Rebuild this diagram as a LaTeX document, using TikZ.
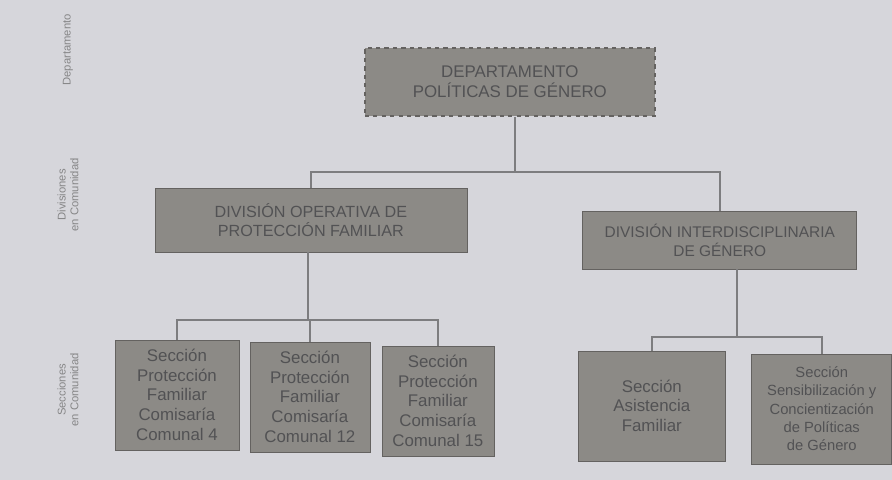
\documentclass[tikz,border=0pt]{standalone}
\usepackage{fontspec}
\setmainfont{Liberation Sans}
\definecolor{fondo}{RGB}{214,214,219}
\definecolor{caja}{RGB}{140,138,134}
\definecolor{borde}{RGB}{100,98,96}
\definecolor{letra}{RGB}{82,82,84}
\definecolor{linea}{RGB}{125,125,127}
\tikzset{
  unidad/.style={draw=borde,fill=caja,text=letra,align=center,font=\fontsize{11.5}{14}\selectfont,inner sep=2pt},
  seccion/.style={unidad,minimum height=2.75cm,font=\fontsize{12}{14.2}\selectfont},
  nivel/.style={rotate=90,text=letra!70,align=center,font=\fontsize{8}{9}\selectfont},
  rama/.style={draw=linea,line width=1.4pt}
}
\begin{document}
\begin{tikzpicture}[x=0.025cm,y=-0.025cm]
  \fill[fondo] (0,0) rectangle (892,480);
  % niveles
  \node[nivel] (n1) at (68,50) {Departamento};
  \node[nivel] (n2) at (68,195) {Divisiones\\en Comunidad};
  \node[nivel] (n3) at (68,390) {Secciones\\en Comunidad};
  % departamento
  \node[unidad,dashed,line width=1.3pt,minimum width=7.25cm,minimum height=1.7cm,font=\fontsize{12}{14.5}\selectfont] (dep) at (510,82)
    {DEPARTAMENTO\\POLÍTICAS DE GÉNERO};
  % divisiones
  \node[unidad,minimum width=7.8cm,minimum height=1.6cm] (divA) at (311,220)
    {DIVISIÓN OPERATIVA DE\\PROTECCIÓN FAMILIAR};
  \node[unidad,minimum width=6.85cm,minimum height=1.45cm,font=\fontsize{11}{13.5}\selectfont] (divB) at (720,240)
    {DIVISIÓN INTERDISCIPLINARIA\\DE GÉNERO};
  % secciones
  \node[seccion,minimum width=3.1cm] (s1) at (177,395)
    {Sección\\Protección\\Familiar\\Comisaría\\Comunal 4};
  \node[seccion,minimum width=3cm] (s2) at (310,397)
    {Sección\\Protección\\Familiar\\Comisaría\\Comunal 12};
  \node[seccion,minimum width=2.8cm] (s3) at (438,401)
    {Sección\\Protección\\Familiar\\Comisaría\\Comunal 15};
  \node[seccion,minimum width=3.7cm] (s4) at (652,406)
    {Sección\\Asistencia\\Familiar};
  \node[seccion,minimum width=3.5cm,font=\fontsize{10.5}{13}\selectfont] (s5) at (822,409)
    {Sección\\Sensibilización y\\Concientización\\de Políticas\\de Género};
  % ramas
  \coordinate (c0) at (515,172);
  \coordinate (c1) at (308,320);
  \coordinate (c2) at (737,337);
  \draw[rama] (dep.south -| c0) -- (c0);
  \draw[rama] (c0) -| (divA.north);
  \draw[rama] (c0) -| (divB.north);
  \draw[rama] (divA.south -| c1) -- (c1);
  \draw[rama] (c1) -| (s1.north);
  \draw[rama] (c1) -- (s2.north |- c1) -- (s2.north);
  \draw[rama] (c1) -| (s3.north);
  \draw[rama] (divB.south -| c2) -- (c2);
  \draw[rama] (c2) -| (s4.north);
  \draw[rama] (c2) -| (s5.north);
\end{tikzpicture}
\end{document}
